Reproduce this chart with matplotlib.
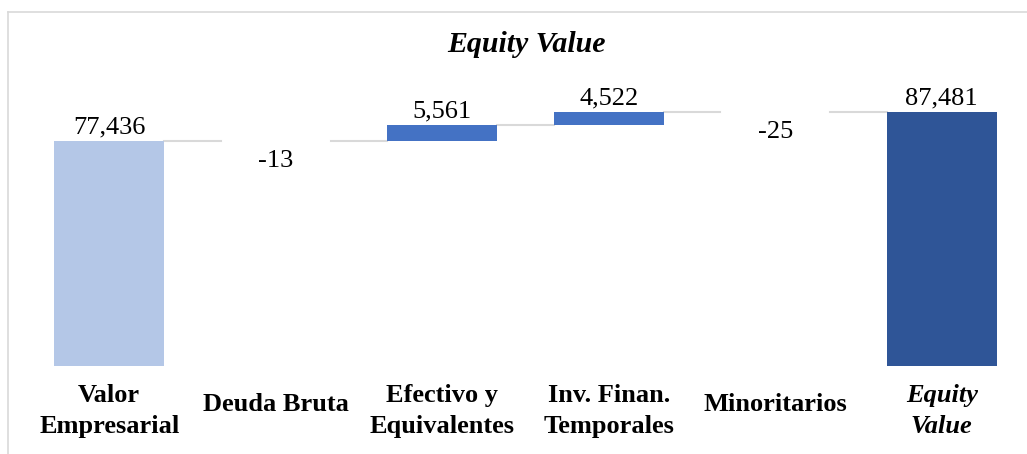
import matplotlib
matplotlib.use("Agg")
import matplotlib.pyplot as plt
from matplotlib.lines import Line2D

plt.rcParams["font.family"] = ["Liberation Serif", "DejaVu Serif"]

categories = ["Valor\nEmpresarial", "Deuda Bruta", "Efectivo y\nEquivalentes",
              "Inv. Finan.\nTemporales", "Minoritarios", "Equity\nValue"]
values = [77436, -13, 5561, 4522, -25, 87481]
is_total = [True, False, False, False, False, True]

COL_START = "#B4C7E7"
COL_UP = "#4472C4"
COL_DOWN = "#DAE3F3"
COL_END = "#2F5597"
COL_LINE = "#D9D9D9"

fig = plt.figure(figsize=(10.27, 4.54), dpi=100)
ax = fig.add_axes([26 / 1027, 88 / 454, 999 / 1027, 290.5 / 454])

bottoms, heights, colors, tops = [], [], [], []
running = 0
for i, (v, tot) in enumerate(zip(values, is_total)):
    if tot:
        bottoms.append(0)
        heights.append(v)
        colors.append(COL_START if i == 0 else COL_END)
        running = v
    else:
        bottoms.append(running if v >= 0 else running + v)
        heights.append(abs(v))
        colors.append(COL_UP if v >= 0 else COL_DOWN)
        running += v
    tops.append(running)

x = list(range(len(values)))
width = 0.66
ax.bar(x, heights, bottom=bottoms, width=width, color=colors, zorder=3)

# connectors
for i in range(len(values) - 1):
    ax.plot([i + width / 2, i + 1 - width / 2], [tops[i], tops[i]],
            color=COL_LINE, lw=1.5, zorder=2)

# value labels
for i, v in enumerate(values):
    if v >= 0:
        y = bottoms[i] + heights[i]
        ax.annotate(f"{v:,}", (i, y), xytext=(0, 2), textcoords="offset points",
                    ha="center", va="bottom", fontsize=19)
    else:
        y = bottoms[i]
        ax.annotate(f"{v:,}", (i, y), xytext=(0, -6.5), textcoords="offset points",
                    ha="center", va="top", fontsize=19)

# category labels
for i, lab in enumerate(categories):
    style = "italic" if i == len(categories) - 1 else "normal"
    ypos = -0.155 if "\n" in lab else -0.131
    ax.text(i, ypos, lab, transform=ax.get_xaxis_transform(), ha="center",
            va="center", fontsize=19, fontweight="bold", fontstyle=style,
            linespacing=1.45)

ax.set_xlim(-0.5, 5.5)
ax.set_ylim(0, 100000)
ax.axis("off")

fig.text(526 / 1027, 1 - 45 / 454, "Equity Value", ha="center", va="center",
         fontsize=21.5, fontweight="bold", fontstyle="italic")

# chart frame (left and top edges visible)
fig.add_artist(Line2D([8 / 1027, 8 / 1027], [0, 1 - 12 / 454],
                      transform=fig.transFigure, color=COL_LINE, lw=1.2))
fig.add_artist(Line2D([8 / 1027, 1], [1 - 12 / 454, 1 - 12 / 454],
                      transform=fig.transFigure, color=COL_LINE, lw=1.2))

fig.savefig("out.png", dpi=100)
